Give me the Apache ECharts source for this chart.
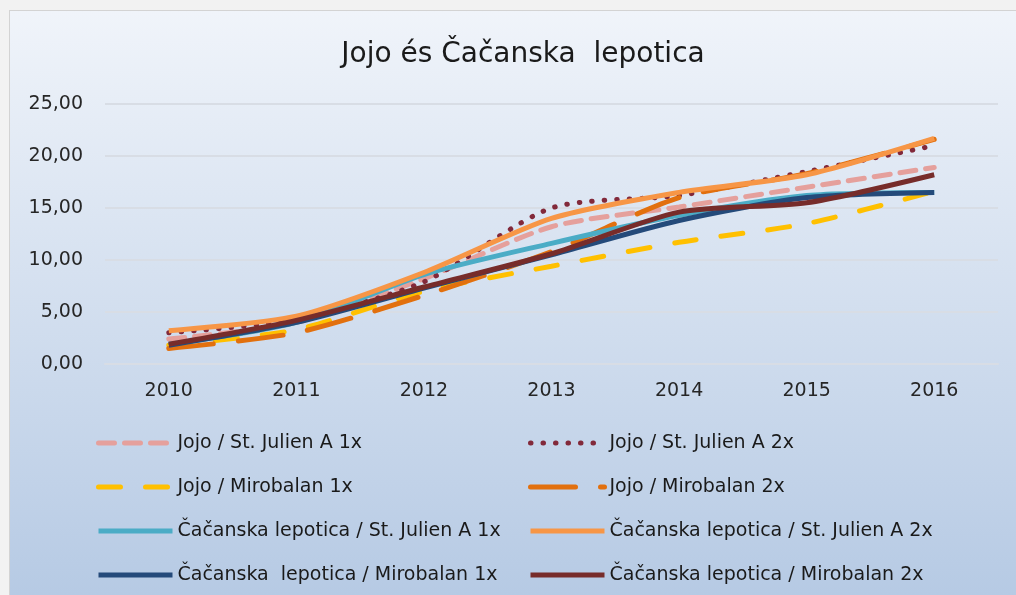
<!DOCTYPE html>
<html>
<head>
<meta charset="utf-8">
<script src="https://cdn.jsdelivr.net/npm/echarts@6/dist/echarts.min.js"></script>
<style>
  html, body { margin: 0; padding: 0; background: #f2f2f2; overflow: hidden; }
  #chart {
    position: absolute; left: 9px; top: 10px;
    width: 1006px; height: 584px;
    border-top: 1px solid #d3d3d3; border-left: 1px solid #d3d3d3;
  }
</style>
</head>
<body>
<div id="chart"></div>
<script>
// years on the x axis
const years = ["2010", "2011", "2012", "2013", "2014", "2015", "2016"];

const names = [
  "Jojo / St. Julien A 1x",
  "Jojo / St. Julien A 2x",
  "Jojo / Mirobalan 1x",
  "Jojo / Mirobalan 2x",
  "Čačanska lepotica / St. Julien A 1x",
  "Čačanska lepotica / St. Julien A 2x",
  "Čačanska  lepotica / Mirobalan 1x",
  "Čačanska lepotica / Mirobalan 2x"
];

const jojoStJ1 = [2.4, 4.0, 8.2, 13.2, 15.1, 17.0, 18.9];
const jojoStJ2 = [3.0, 4.3, 7.9, 15.0, 16.2, 18.5, 21.0];
const jojoMir1 = [1.8, 3.3, 7.0, 9.4, 11.7, 13.5, 16.6];
const jojoMir2 = [1.5, 3.0, 6.6, 10.8, 16.0, 18.3, 21.6];
const cacStJ1 = [1.9, 4.0, 8.6, 11.6, 14.3, 16.2, 16.5];
const cacStJ2 = [3.2, 4.6, 8.8, 14.0, 16.5, 18.2, 21.7];
const cacMir1 = [1.8, 4.0, 7.3, 10.5, 13.8, 16.0, 16.5];
const cacMir2 = [1.9, 4.2, 7.4, 10.6, 14.6, 15.5, 18.2];

const FONT = "DejaVu Sans";

function line(name, data, color, type, cap) {
  return {
    name: name,
    type: "line",
    data: data,
    smooth: 0.25,
    symbol: "none",
    lineStyle: { color: color, width: 5, type: type, cap: cap || "butt" },
    itemStyle: { color: color }
  };
}

function legendCol(left, items) {
  return {
    orient: "vertical",
    left: left,
    top: 417,
    itemWidth: 74,
    itemHeight: 14,
    itemGap: 24,
    data: items,
    itemStyle: { opacity: 0 },
    lineStyle: { width: 5 },
    textStyle: { fontFamily: FONT, fontSize: 19, color: "#1a1a1a", lineHeight: 20 }
  };
}

const chart = echarts.init(document.getElementById("chart"));
chart.setOption({
  backgroundColor: new echarts.graphic.LinearGradient(0, 0, 0, 1, [
    { offset: 0, color: "#f0f4fa" },
    { offset: 1, color: "#b6cae4" }
  ]),
  animation: false,
  title: {
    text: "Jojo és Čačanska  lepotica",
    left: 508,
    textAlign: "center",
    top: 25,
    textStyle: { fontFamily: FONT, fontSize: 28, fontWeight: "normal", color: "#1a1a1a" }
  },
  grid: { left: 95, right: 18, top: 93, bottom: 231 },
  xAxis: {
    type: "category",
    data: years,
    axisLine: { lineStyle: { color: "#d8dde5", width: 2 } },
    axisTick: { show: false },
    axisLabel: { fontFamily: FONT, fontSize: 19, color: "#262626", margin: 18 }
  },
  yAxis: {
    type: "value",
    min: 0,
    max: 25,
    interval: 5,
    axisLine: { show: false },
    axisTick: { show: false },
    splitLine: { lineStyle: { color: "#d8dde5", width: 2 } },
    axisLabel: {
      fontFamily: FONT, fontSize: 19, color: "#262626", margin: 22,
      formatter: v => v.toFixed(2).replace(".", ",")
    }
  },
  legend: [
    legendCol(81, [names[0], names[2], names[4], names[6]]),
    legendCol(513, [names[1], names[3], names[5], names[7]])
  ],
  series: [
    line(names[0], jojoStJ1, "#e5a09c", [16, 10], "round"),
    line(names[1], jojoStJ2, "#82293a", [0.5, 12], "round"),
    line(names[2], jojoMir1, "#ffc000", [22, 25], "round"),
    line(names[3], jojoMir2, "#e2700e", [45, 25], "round"),
    line(names[4], cacStJ1, "#4bacc6", "solid"),
    line(names[5], cacStJ2, "#f79646", "solid"),
    line(names[6], cacMir1, "#244a7a", "solid"),
    line(names[7], cacMir2, "#772c2a", "solid")
  ]
});
</script>
</body>
</html>
